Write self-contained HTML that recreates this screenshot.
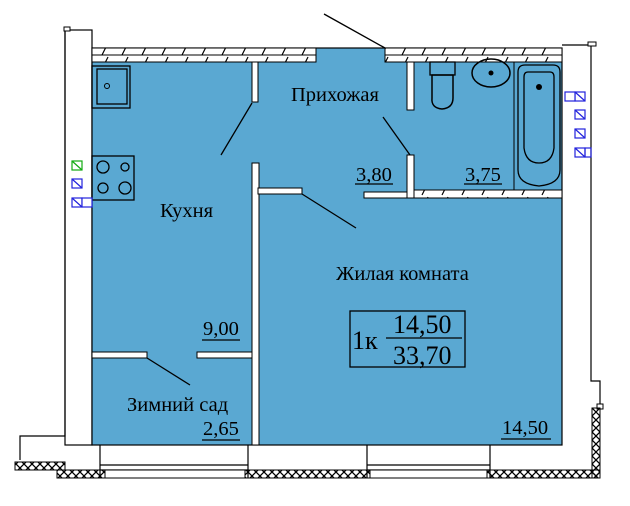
<html><head><style>body{margin:0;background:#fff}svg{display:block}</style></head><body>
<svg width="630" height="506" viewBox="0 0 630 506" xmlns="http://www.w3.org/2000/svg" font-family="Liberation Serif, serif">
<defs>
<pattern id="h" width="20" height="14" patternUnits="userSpaceOnUse"><path d="M2 13L8 1" stroke="#000" stroke-width="1.2"/></pattern>
<pattern id="x" width="8" height="8" patternUnits="userSpaceOnUse"><path d="M0 0L8 8M8 0L0 8" stroke="#000" stroke-width="1.3"/></pattern>
</defs>
<rect x="65" y="30" width="27" height="415" fill="#fff" stroke="#000" stroke-width="1.2"/>
<path d="M65 30V436H20V460" fill="none" stroke="#000" stroke-width="1.2"/>
<rect x="64" y="27" width="6" height="4" fill="#fff" stroke="#000"/>
<path d="M562 45H591V381H600V406" fill="#fff" stroke="#000" stroke-width="1.2"/>
<rect x="588" y="42" width="8" height="4" fill="#fff" stroke="#000"/>
<rect x="597" y="404" width="6" height="5" fill="#fff" stroke="#000"/>
<rect x="92" y="48" width="470" height="397" fill="#5aa8d2" stroke="#000" stroke-width="1.2"/>
<rect x="92" y="48" width="224" height="14" fill="#fff" stroke="#000"/>
<rect x="92" y="48" width="224" height="14" fill="url(#h)"/>
<line x1="92" y1="55" x2="316" y2="55" stroke="#000"/>
<rect x="385" y="48" width="177" height="14" fill="#fff" stroke="#000"/>
<rect x="385" y="48" width="177" height="14" fill="url(#h)"/>
<line x1="385" y1="55" x2="562" y2="55" stroke="#000"/>
<line x1="324" y1="14" x2="385" y2="48" stroke="#000" stroke-width="1.3"/>
<rect x="252" y="62" width="6" height="40" fill="#fff" stroke="#000"/>
<line x1="252" y1="103" x2="221" y2="155" stroke="#000" stroke-width="1.3"/>
<rect x="252" y="163" width="7" height="282" fill="#fff" stroke="#000"/>
<rect x="258" y="188" width="44" height="6" fill="#fff" stroke="#000"/>
<line x1="302" y1="194" x2="356" y2="228" stroke="#000" stroke-width="1.3"/>
<rect x="92" y="352" width="55" height="6" fill="#fff" stroke="#000"/>
<rect x="197" y="352" width="55" height="6" fill="#fff" stroke="#000"/>
<line x1="147" y1="358" x2="190" y2="385" stroke="#000" stroke-width="1.3"/>
<rect x="92" y="66" width="38" height="42" fill="none" stroke="#000" stroke-width="1.3"/>
<rect x="97" y="69" width="30" height="35" fill="none" stroke="#000" stroke-width="1.3"/>
<circle cx="107" cy="86" r="2.5" fill="none" stroke="#000"/>
<rect x="92" y="156" width="42" height="44" fill="none" stroke="#000" stroke-width="1.3"/>
<circle cx="103" cy="167" r="6" fill="none" stroke="#000" stroke-width="1.3"/>
<circle cx="125" cy="167" r="4" fill="none" stroke="#000" stroke-width="1.3"/>
<circle cx="103" cy="188" r="5" fill="none" stroke="#000" stroke-width="1.3"/>
<circle cx="125" cy="188" r="6" fill="none" stroke="#000" stroke-width="1.3"/>
<g fill="none" stroke-width="1.2">
<rect x="72" y="161" width="10" height="9" stroke="#1a1"/><line x1="72" y1="161" x2="82" y2="170" stroke="#1a1"/>
<rect x="72" y="179" width="10" height="9" stroke="#22d"/><line x1="72" y1="179" x2="82" y2="188" stroke="#22d"/>
<rect x="72" y="198" width="10" height="9" stroke="#22d"/><line x1="72" y1="198" x2="82" y2="207" stroke="#22d"/>
<rect x="82" y="198" width="10" height="9" stroke="#22d" fill="#fff"/>
<rect x="575" y="92" width="10" height="9" stroke="#22d"/><line x1="575" y1="92" x2="585" y2="101" stroke="#22d"/>
<rect x="565" y="92" width="10" height="9" stroke="#22d" fill="#fff"/>
<rect x="575" y="110" width="10" height="9" stroke="#22d"/><line x1="575" y1="110" x2="585" y2="119" stroke="#22d"/>
<rect x="575" y="129" width="10" height="9" stroke="#22d"/><line x1="575" y1="129" x2="585" y2="138" stroke="#22d"/>
<rect x="575" y="148" width="10" height="9" stroke="#22d"/><line x1="575" y1="148" x2="585" y2="157" stroke="#22d"/>
<rect x="585" y="148" width="6" height="9" stroke="#22d"/>
</g>
<rect x="407" y="62" width="7" height="48" fill="#fff" stroke="#000"/>
<rect x="407" y="155" width="7" height="43" fill="#fff" stroke="#000"/>
<line x1="410" y1="155" x2="383" y2="117" stroke="#000" stroke-width="1.3"/>
<rect x="414" y="190" width="148" height="8" fill="#fff" stroke="#000"/>
<rect x="414" y="190" width="148" height="8" fill="url(#h)"/>
<rect x="364" y="192" width="43" height="6" fill="#fff" stroke="#000"/>
<rect x="430" y="62" width="25" height="13" fill="none" stroke="#000" stroke-width="1.3"/>
<path d="M432 75H453V98Q453 108 442 109Q431 108 432 98Z" fill="none" stroke="#000" stroke-width="1.5"/>
<ellipse cx="491" cy="73" rx="19" ry="14" fill="none" stroke="#000" stroke-width="1.5"/>
<circle cx="491" cy="73" r="2.5" fill="#000"/>
<line x1="514" y1="62" x2="514" y2="190" stroke="#000"/>
<path d="M518 72Q518 65 525 65H553Q560 65 560 72V170Q560 184 539 186Q518 184 518 170Z" fill="none" stroke="#000" stroke-width="1.3"/>
<path d="M524 77Q524 72 528 72H550Q554 72 554 77V148Q552 163 539 163Q526 163 524 148Z" fill="none" stroke="#000" stroke-width="1.3"/>
<circle cx="539" cy="87" r="3" fill="#000"/>
<g stroke="#000" fill="none" stroke-width="1.2">
<line x1="100" y1="445" x2="100" y2="478"/><line x1="248" y1="445" x2="248" y2="478"/>
<line x1="367" y1="445" x2="367" y2="478"/><line x1="490" y1="445" x2="490" y2="478"/>
<line x1="100" y1="465" x2="248" y2="465"/><line x1="367" y1="465" x2="490" y2="465"/>
<line x1="100" y1="470" x2="248" y2="470"/><line x1="367" y1="470" x2="490" y2="470"/>
</g>
<rect x="15" y="462" width="50" height="8" fill="url(#x)" stroke="#000"/>
<rect x="57" y="470" width="48" height="8" fill="url(#x)" stroke="#000"/>
<rect x="245" y="470" width="125" height="8" fill="url(#x)" stroke="#000"/>
<rect x="487" y="470" width="113" height="8" fill="url(#x)" stroke="#000"/>
<rect x="592" y="408" width="8" height="70" fill="url(#x)" stroke="#000"/>
<rect x="105" y="470" width="140" height="8" fill="#fff" stroke="#000"/>
<rect x="370" y="470" width="117" height="8" fill="#fff" stroke="#000"/>
<g font-size="20.5" fill="#000">
<text x="291" y="101">Прихожая</text>
<text x="160" y="217">Кухня</text>
<text x="336" y="280">Жилая комната</text>
<text x="127" y="411">Зимний сад</text>
<text x="356" y="181">3,80</text><line x1="355" y1="184" x2="393" y2="184" stroke="#000" stroke-width="1.3"/>
<text x="465" y="181">3,75</text><line x1="464" y1="184" x2="502" y2="184" stroke="#000" stroke-width="1.3"/>
<text x="203" y="335">9,00</text><line x1="202" y1="340" x2="240" y2="340" stroke="#000" stroke-width="1.3"/>
<text x="203" y="435">2,65</text><line x1="202" y1="440" x2="240" y2="440" stroke="#000" stroke-width="1.3"/>
<text x="502" y="434">14,50</text><line x1="501" y1="439" x2="551" y2="439" stroke="#000" stroke-width="1.3"/>
</g>
<rect x="350" y="311" width="115" height="56" fill="none" stroke="#000" stroke-width="1.3"/>
<g font-size="26"><text x="352" y="349">1к</text>
<text x="393" y="333">14,50</text><line x1="386" y1="338" x2="462" y2="338" stroke="#000" stroke-width="1.3"/>
<text x="393" y="364">33,70</text></g>
</svg>
</body></html>
